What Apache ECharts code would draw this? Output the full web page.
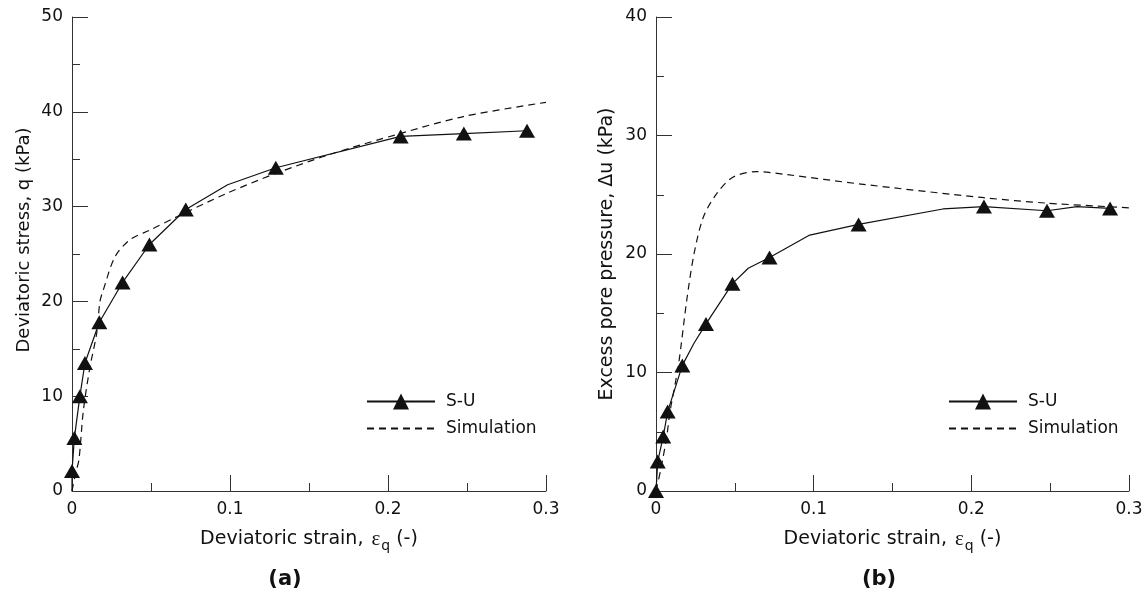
<!DOCTYPE html>
<html>
<head>
<meta charset="utf-8">
<script src="https://cdn.jsdelivr.net/npm/echarts@6/dist/echarts.min.js"></script>
<style>
  html, body { margin: 0; padding: 0; background: #fff; }
  #main { width: 1148px; height: 598px; }
</style>
</head>
<body>
<div id="main"></div>
<script>
// (a) deviatoric stress vs strain
var suStrainA = [0, 0.0015, 0.005, 0.0082, 0.0173, 0.032, 0.049, 0.072, 0.129, 0.208, 0.248, 0.288];
var suStressA = [2.1, 5.6, 10.0, 13.5, 17.8, 22.0, 26.0, 29.7, 34.1, 37.4, 37.7, 38.0];
var suLineStrainA = [0, 0, 0.0015, 0.005, 0.0082, 0.0173, 0.032, 0.049, 0.072, 0.0985, 0.129, 0.208, 0.248, 0.288];
var suLineStressA = [0, 2.1, 5.6, 10.0, 13.5, 17.8, 22.0, 26.0, 29.7, 32.3, 34.1, 37.4, 37.7, 38.0];
var simStrainA = [0, 0.0025, 0.0044, 0.0072, 0.0114, 0.0156, 0.0177, 0.0198, 0.0272, 0.0367, 0.049, 0.066, 0.098, 0.129, 0.165, 0.2076, 0.2477, 0.3];
var simStressA = [0, 2.0, 3.3, 8.5, 13.1, 16.6, 20.0, 21.2, 24.7, 26.5, 27.5, 28.9, 31.4, 33.5, 35.6, 37.7, 39.5, 41.0];

// (b) excess pore pressure vs strain
var suStrainB = [0, 0.0011, 0.0046, 0.0074, 0.0167, 0.0317, 0.0485, 0.072, 0.1285, 0.208, 0.248, 0.288];
var suPoreB = [0, 2.5, 4.6, 6.7, 10.6, 14.1, 17.5, 19.7, 22.5, 24.0, 23.65, 23.85];
var suLineStrainB = [0, 0.0011, 0.0046, 0.0074, 0.0167, 0.024, 0.0317, 0.0485, 0.0585, 0.072, 0.0975, 0.1285, 0.182, 0.208, 0.248, 0.267, 0.288];
var suLinePoreB = [0, 2.5, 4.6, 6.7, 10.6, 12.45, 14.1, 17.5, 18.8, 19.7, 21.6, 22.5, 23.8, 24.0, 23.65, 24.0, 23.85];
var simStrainB = [0, 0.003, 0.0068, 0.0089, 0.0142, 0.0195, 0.0241, 0.030, 0.0385, 0.049, 0.064, 0.083, 0.13, 0.208, 0.247, 0.3];
var simPoreB = [0, 1.8, 4.6, 6.7, 10.6, 16.1, 20.0, 23.1, 25.1, 26.5, 26.95, 26.7, 25.9, 24.75, 24.3, 23.9];

var xTicks = [0, 0.1, 0.2, 0.3];

function zip(xs, ys) {
  return xs.map(function (x, i) { return [x, ys[i]]; });
}

var ink = '#111';
var font = 'DejaVu Sans';

function xAxisCfg(gridIndex) {
  return {
    gridIndex: gridIndex,
    type: 'value',
    min: 0, max: 0.3, interval: 0.1,
    name: 'Deviatoric strain, {e|ε}{s|q} (-)',
    nameLocation: 'middle',
    nameGap: 35,
    nameTextStyle: {
      color: ink, fontFamily: font, fontSize: 19, lineHeight: 27,
      rich: {
        e: { fontFamily: 'Liberation Serif', fontSize: 21, color: ink, padding: [0, 1, 0, 2] },
        s: { fontFamily: font, fontSize: 14, color: ink, verticalAlign: 'bottom', lineHeight: 27 }
      }
    },
    axisLine: { lineStyle: { color: '#333', width: 1 } },
    axisTick: { inside: true, length: 16, lineStyle: { color: '#333' } },
    minorTick: { show: true, splitNumber: 2, length: 8, lineStyle: { color: '#333' } },
    axisLabel: {
      color: ink, fontFamily: font, fontSize: 17, margin: 10,
      formatter: function (v) { return xTicks.indexOf(+v.toFixed(2)) >= 0 ? String(+v.toFixed(2)) : ''; }
    },
    splitLine: { show: false }
  };
}

function yAxisCfg(gridIndex, max, name, size, shift) {
  return {
    gridIndex: gridIndex,
    type: 'value',
    min: 0, max: max, interval: 10,
    name: name,
    nameLocation: 'middle',
    nameGap: 39,
    nameTextStyle: { color: ink, fontFamily: font, fontSize: size, padding: [0, 0, 0, shift] },
    axisLine: { show: true, lineStyle: { color: '#333', width: 1 } },
    axisTick: { inside: true, length: 16, lineStyle: { color: '#333' } },
    minorTick: { show: true, splitNumber: 2, length: 8, lineStyle: { color: '#333' } },
    axisLabel: { color: ink, fontFamily: font, fontSize: 17, margin: 9 },
    splitLine: { show: false }
  };
}

function legendCfg(left) {
  return {
    left: left, top: 388,
    orient: 'vertical',
    itemWidth: 68, itemHeight: 20, itemGap: 10,
    data: ['S-U', { name: 'Simulation', itemStyle: { opacity: 0 } }],
    textStyle: { color: ink, fontFamily: font, fontSize: 17, padding: [0, 0, 0, 6] }
  };
}

function suLine(idx, xs, ys) {
  return {
    name: 'S-U', type: 'line', xAxisIndex: idx, yAxisIndex: idx,
    data: zip(xs, ys),
    symbol: 'triangle', symbolSize: [16, 14], showSymbol: false,
    lineStyle: { color: ink, width: 1.2 },
    itemStyle: { color: ink },
    silent: true, z: 3
  };
}

function suMarks(idx, xs, ys) {
  return {
    name: 'S-U points', type: 'scatter', xAxisIndex: idx, yAxisIndex: idx,
    data: zip(xs, ys),
    symbol: 'triangle', symbolSize: [16, 14],
    itemStyle: { color: ink, opacity: 1 },
    silent: true, z: 4
  };
}

function simLine(idx, xs, ys) {
  return {
    name: 'Simulation', type: 'line', xAxisIndex: idx, yAxisIndex: idx,
    data: zip(xs, ys),
    symbol: 'none', smooth: 0.3,
    lineStyle: { color: ink, width: 1.2, type: [7, 5] },
    itemStyle: { color: ink },
    silent: true, z: 2
  };
}

function panelLabel(text, x) {
  return {
    type: 'text', x: x, y: 580,
    style: {
      text: text, font: 'bold 21px "DejaVu Sans"', fill: ink,
      align: 'center', verticalAlign: 'middle', textAlign: 'center', textVerticalAlign: 'middle'
    }
  };
}

var myChart = echarts.init(document.getElementById('main'));

var option = {
  backgroundColor: '#fff',
  animation: false,
  grid: [
    { left: 72, top: 17, width: 474, height: 474 },
    { left: 656, top: 17, width: 473, height: 474 }
  ],
  xAxis: [xAxisCfg(0), xAxisCfg(1)],
  yAxis: [
    yAxisCfg(0, 50, 'Deviatoric stress, q (kPa)', 18, 28),
    yAxisCfg(1, 40, 'Excess pore pressure, Δu (kPa)', 19, 0)
  ],
  legend: [legendCfg(361), legendCfg(943)],
  graphic: [panelLabel('(a)', 285), panelLabel('(b)', 879)],
  series: [
    simLine(0, simStrainA, simStressA),
    suLine(0, suLineStrainA, suLineStressA),
    suMarks(0, suStrainA, suStressA),
    simLine(1, simStrainB, simPoreB),
    suLine(1, suLineStrainB, suLinePoreB),
    suMarks(1, suStrainB, suPoreB)
  ]
};

myChart.setOption(option);
</script>
</body>
</html>
